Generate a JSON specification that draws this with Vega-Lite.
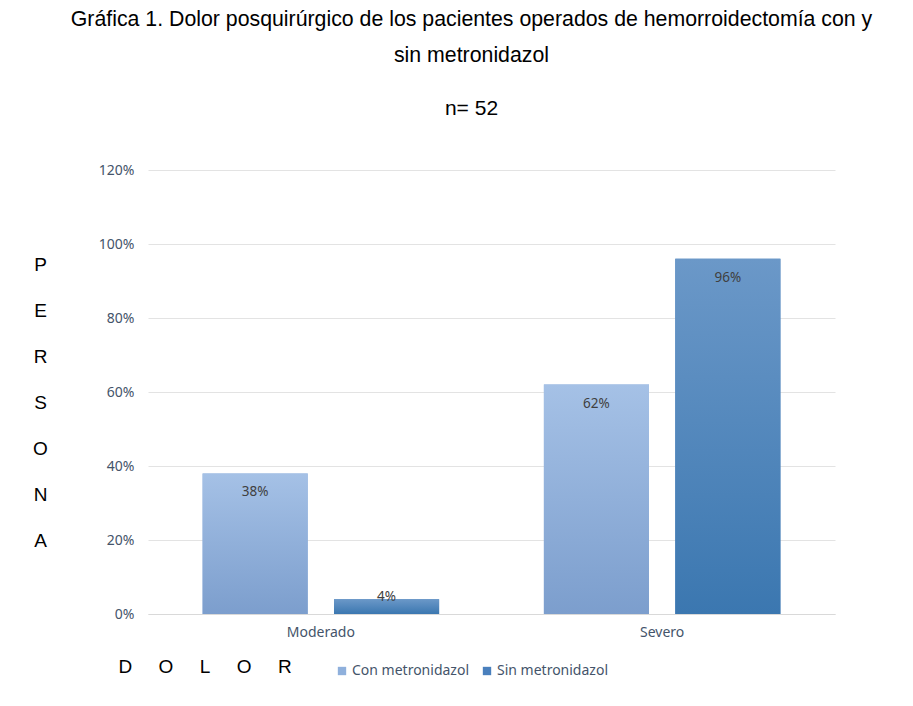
{
  "$schema": "https://vega.github.io/schema/vega-lite/v6.json",
  "autosize": "none",
  "width": 687,
  "height": 444,
  "padding": {"left": 148, "top": 170, "right": 78, "bottom": 92},
  "background": "white",
  "title": {
    "text": ["Gráfica 1. Dolor posquirúrgico de los pacientes operados de hemorroidectomía con y", "sin metronidazol"],
    "subtitle": "n= 52",
    "anchor": "middle",
    "frame": "group",
    "dx": -20,
    "offset": 44,
    "font": "Liberation Sans",
    "fontSize": 21.3,
    "fontWeight": "normal",
    "color": "black",
    "lineHeight": 36,
    "subtitleFont": "Liberation Sans",
    "subtitleFontSize": 21,
    "subtitleColor": "black",
    "subtitlePadding": 32
  },
  "data": {
    "values": [
      {"dolor": "Moderado", "grupo": "Con metronidazol", "valor": 0.38},
      {"dolor": "Moderado", "grupo": "Sin metronidazol", "valor": 0.04},
      {"dolor": "Severo", "grupo": "Con metronidazol", "valor": 0.62},
      {"dolor": "Severo", "grupo": "Sin metronidazol", "valor": 0.96}
    ]
  },
  "encoding": {
    "x": {
      "field": "dolor",
      "type": "nominal",
      "scale": {"paddingInner": 0.307, "paddingOuter": 0.16},
      "axis": {
        "title": "D\u00a0\u00a0\u00a0\u00a0\u00a0O\u00a0\u00a0\u00a0\u00a0\u00a0L\u00a0\u00a0\u00a0\u00a0\u00a0O\u00a0\u00a0\u00a0\u00a0\u00a0R",
        "titleFont": "Liberation Sans",
        "titleFontSize": 19,
        "titleFontWeight": "normal",
        "titleColor": "black",
        "titleX": -30,
        "titleY": 52,
        "titleAlign": "left",
        "titleBaseline": "middle",
        "labelAngle": 0,
        "labelFont": "Noto Sans",
        "labelFontSize": 14,
        "labelColor": "#44546a",
        "labelPadding": 11,
        "ticks": false,
        "domainColor": "#d9d9d9",
        "grid": false
      }
    },
    "xOffset": {
      "field": "grupo",
      "type": "nominal",
      "scale": {"paddingInner": 0.2, "paddingOuter": 0}
    },
    "y": {
      "field": "valor",
      "type": "quantitative",
      "scale": {"domain": [0, 1.2]},
      "axis": {
        "format": ".0%",
        "values": [0, 0.2, 0.4, 0.6, 0.8, 1, 1.2],
        "title": ["P", "E", "R", "S", "O", "N", "A"],
        "titleAngle": 0,
        "titleFont": "Liberation Sans",
        "titleFontSize": 19,
        "titleFontWeight": "normal",
        "titleColor": "black",
        "titleLineHeight": 46,
        "titleX": -108,
        "titleY": 94,
        "titleAlign": "center",
        "titleBaseline": "middle",
        "labelFont": "Noto Sans",
        "labelFontSize": 14,
        "labelColor": "#44546a",
        "labelPadding": 14,
        "ticks": false,
        "domain": false,
        "gridColor": "#e3e3e3"
      }
    }
  },
  "layer": [
    {
      "mark": {"type": "bar"},
      "encoding": {
        "color": {
          "field": "grupo",
          "type": "nominal",
          "scale": {"domain": ["Con metronidazol", "Sin metronidazol"], "range": ["#8fb0dc", "#4a80bd"]},
          "legend": {
            "title": null,
            "orient": "none",
            "direction": "horizontal",
            "legendX": 187,
            "legendY": 494,
            "symbolType": "square",
            "symbolSize": 70,
            "symbolStrokeWidth": 0,
            "labelFont": "Noto Sans",
            "labelFontSize": 14,
            "labelColor": "#44546a",
            "labelOffset": 3,
            "columnPadding": 10
          }
        }
      }
    },
    {
      "transform": [{"filter": "datum.grupo === 'Con metronidazol'"}],
      "mark": {
        "type": "bar",
        "fill": {
          "gradient": "linear",
          "x1": 0, "y1": 0, "x2": 0, "y2": 1,
          "stops": [{"offset": 0, "color": "#a5c1e6"}, {"offset": 1, "color": "#7c9ecd"}]
        }
      }
    },
    {
      "transform": [{"filter": "datum.grupo === 'Sin metronidazol'"}],
      "mark": {
        "type": "bar",
        "fill": {
          "gradient": "linear",
          "x1": 0, "y1": 0, "x2": 0, "y2": 1,
          "stops": [{"offset": 0, "color": "#6b98c8"}, {"offset": 1, "color": "#3b77b0"}]
        }
      }
    },
    {
      "transform": [{"calculate": "max(datum.valor, 0.097)", "as": "pos"}],
      "mark": {"type": "text", "baseline": "top", "dy": 12, "font": "Noto Sans", "fontSize": 13.5, "color": "#404040"},
      "encoding": {
        "y": {"field": "pos", "type": "quantitative"},
        "text": {"field": "valor", "type": "quantitative", "format": ".0%"}
      }
    }
  ],
  "config": {"view": {"stroke": null}}
}
